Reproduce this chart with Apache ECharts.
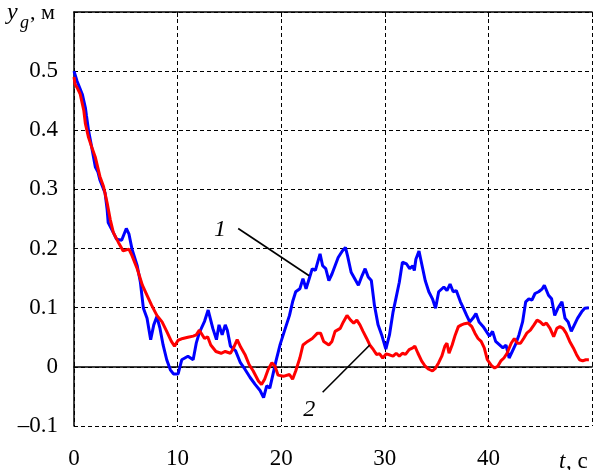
<!DOCTYPE html>
<html><head><meta charset="utf-8">
<script src="https://cdn.jsdelivr.net/npm/echarts@6/dist/echarts.min.js"></script>
<style>html,body{margin:0;padding:0;background:#fff}#c{width:595px;height:470px}</style>
</head><body><div id="c"></div>
<script>
// Curve 1 (blue)
const blueT = [0,0.15,0.3,0.8,1.1,1.2,1.4,1.7,2.06,2.3,2.5,3.0,3.2,3.3,3.8,4.1,4.6,5.05,5.3,5.6,6.1,6.4,6.7,7.05,7.4,7.7,8.0,8.3,8.6,8.95,9.3,9.6,10.05,10.4,11.0,11.5,11.8,12.1,12.6,12.95,13.4,13.75,14.0,14.3,14.6,14.8,15.1,15.6,16.06,16.5,17.0,17.5,17.96,18.3,18.6,18.9,19.2,19.5,19.9,20.3,20.8,21.1,21.4,21.8,22.1,22.4,22.7,23.0,23.3,23.75,24.0,24.3,24.6,24.9,25.2,25.5,25.9,26.2,26.4,26.75,27.1,27.45,27.8,28.1,28.4,28.7,29.0,29.35,29.7,30.1,30.45,30.8,31.1,31.4,31.7,32.1,32.4,32.7,32.85,33.0,33.3,33.6,33.9,34.25,34.6,34.9,35.2,35.7,36.0,36.3,36.6,36.9,37.3,37.6,37.9,38.2,38.5,38.8,39.1,39.5,39.8,40.1,40.4,40.7,41.4,41.7,42.0,42.3,42.6,42.95,43.3,43.6,43.9,44.2,44.5,44.85,45.2,45.4,45.8,46.1,46.4,46.7,47.1,47.4,47.7,48.0,48.3,48.6,49.0,49.3,49.7];
const blueY = [0.500,0.503,0.483,0.461,0.438,0.425,0.400,0.372,0.338,0.330,0.316,0.294,0.266,0.244,0.227,0.216,0.214,0.234,0.225,0.199,0.171,0.144,0.099,0.082,0.046,0.071,0.085,0.065,0.037,0.012,-0.005,-0.012,-0.012,0.012,0.018,0.012,0.040,0.058,0.077,0.096,0.065,0.046,0.071,0.054,0.071,0.062,0.035,0.027,0.007,-0.004,-0.018,-0.030,-0.040,-0.052,-0.032,-0.036,-0.013,0.010,0.038,0.060,0.087,0.110,0.127,0.132,0.149,0.132,0.149,0.166,0.163,0.191,0.171,0.166,0.146,0.157,0.171,0.185,0.196,0.202,0.188,0.160,0.149,0.138,0.154,0.166,0.152,0.146,0.104,0.071,0.054,0.030,0.054,0.093,0.118,0.143,0.177,0.174,0.166,0.171,0.163,0.182,0.196,0.171,0.146,0.127,0.115,0.099,0.127,0.135,0.129,0.140,0.127,0.129,0.110,0.099,0.087,0.076,0.082,0.090,0.076,0.068,0.060,0.052,0.060,0.043,0.032,0.037,0.015,0.026,0.037,0.054,0.076,0.110,0.115,0.113,0.124,0.127,0.132,0.138,0.121,0.115,0.087,0.099,0.110,0.082,0.076,0.060,0.071,0.082,0.093,0.099,0.100];
// Curve 2 (red)
const redT = [0,0.1,0.3,0.6,0.95,1.1,1.4,1.7,2.05,2.5,2.85,3.2,3.5,3.8,4.3,4.75,5.3,5.6,6.1,6.6,7.05,7.5,8.0,8.5,8.95,9.4,9.7,10.05,10.5,11.0,11.5,11.8,12.1,12.6,12.9,13.2,13.7,14.2,14.6,15.1,15.4,15.75,16.1,16.5,16.9,17.3,17.8,18.1,18.4,18.75,19.1,19.4,19.7,20.2,20.8,21.1,21.4,21.8,22.1,22.55,23.0,23.5,23.8,24.1,24.6,24.9,25.2,25.7,26.0,26.35,26.7,27.0,27.3,27.6,27.9,28.25,28.55,28.9,29.2,29.5,29.8,30.15,30.5,30.8,31.1,31.4,31.7,32.0,32.35,32.7,32.9,33.2,33.55,33.9,34.25,34.6,34.9,35.2,35.5,35.8,36.0,36.2,36.5,36.8,37.1,37.4,37.7,38.05,38.4,38.7,39.0,39.3,39.6,39.9,40.3,40.6,40.9,41.2,41.5,41.8,42.2,42.5,42.8,43.1,43.4,43.7,44.05,44.4,44.7,45.0,45.3,45.6,45.95,46.3,46.6,46.9,47.2,47.5,47.85,48.2,48.5,48.8,49.1,49.4,49.7];
const redY = [0.490,0.478,0.472,0.461,0.433,0.411,0.388,0.372,0.355,0.322,0.305,0.277,0.249,0.227,0.210,0.196,0.199,0.188,0.166,0.138,0.121,0.104,0.087,0.076,0.060,0.043,0.035,0.045,0.048,0.050,0.052,0.054,0.062,0.048,0.051,0.037,0.026,0.023,0.026,0.023,0.032,0.046,0.033,0.021,0.004,-0.007,-0.024,-0.030,-0.021,-0.004,0.007,0.001,-0.014,-0.016,-0.013,-0.021,-0.007,0.015,0.037,0.043,0.048,0.057,0.057,0.043,0.037,0.043,0.060,0.065,0.076,0.087,0.079,0.074,0.079,0.071,0.060,0.048,0.037,0.029,0.021,0.022,0.015,0.022,0.020,0.018,0.023,0.018,0.023,0.021,0.029,0.032,0.035,0.023,0.010,0.001,-0.004,-0.007,-0.002,0.007,0.018,0.035,0.040,0.023,0.037,0.054,0.068,0.071,0.073,0.074,0.068,0.057,0.048,0.043,0.032,0.012,0.002,-0.002,0.001,0.010,0.015,0.023,0.040,0.048,0.040,0.040,0.048,0.057,0.062,0.071,0.079,0.076,0.071,0.074,0.065,0.051,0.065,0.068,0.065,0.057,0.043,0.032,0.021,0.012,0.010,0.012,0.012];
const xTicks = [0, 10, 20, 30, 40];
const yTicks = [-0.1, 0, 0.1, 0.2, 0.3, 0.4, 0.5];
// Annotations (data coordinates)
const label1 = {text: '1', at: [14.1, 0.232], from: [15.85, 0.234], to: [22.7, 0.154]};
const label2 = {text: '2', at: [22.7, -0.072], from: [24.0, -0.043], to: [28.55, 0.037]};

const FONT = '"Liberation Serif", "DejaVu Serif", serif';
const pairs = (t, y) => t.map((v, i) => [v, y[i]]);
const chart = echarts.init(document.getElementById('c'), null, {renderer: 'canvas'});
const dash = {type: [4, 3], color: '#000', width: 1};
chart.setOption({
  animation: false,
  backgroundColor: '#fff',
  grid: {left: 74, right: -6, top: 12, bottom: 41.5},
  xAxis: [{
    type: 'value', min: 0, max: 50, interval: 10, position: 'bottom',
    axisLine: {lineStyle: {color: '#000', width: 1.5}},
    axisTick: {inside: true, length: 5, lineStyle: {color: '#000'}},
    splitLine: {show: true, lineStyle: dash},
    axisLabel: {margin: 21, fontFamily: FONT, fontSize: 23, color: '#000',
      formatter: v => xTicks.includes(v) ? String(v) : ''}
  }, {
    type: 'value', min: 0, max: 50, interval: 10, position: 'top',
    axisLine: {show: true, lineStyle: {color: '#000', width: 1.5}},
    axisTick: {inside: true, length: 5, lineStyle: {color: '#000'}},
    splitLine: {show: false}, axisLabel: {show: false}
  }],
  yAxis: {
    type: 'value', min: -0.1, max: 0.6, interval: 0.1,
    axisLine: {show: true, lineStyle: {color: '#000', width: 1.5}},
    axisTick: {show: false},
    splitLine: {show: true, lineStyle: dash},
    axisLabel: {margin: 16, fontFamily: FONT, fontSize: 23, color: '#000',
      formatter: v => {
        const r = Math.round(v * 10) / 10;
        if (!yTicks.includes(r)) return '';
        if (r < 0) return '\u2013' + Math.abs(r).toFixed(1);
        if (r === 0) return '0';
        return r.toFixed(1);
      }}
  },
  series: [
    {type: 'line', data: pairs(blueT, blueY), showSymbol: false, symbol: 'none',
     lineStyle: {color: '#0000ff', width: 3}, z: 3},
    {type: 'line', data: pairs(redT, redY), showSymbol: false, symbol: 'none',
     lineStyle: {color: '#ff0000', width: 3}, z: 4}
  ]
});

function px(p) { return chart.convertToPixel({xAxisIndex: 0, yAxisIndex: 0}, p); }
const g = [];
[label1, label2].forEach(a => {
  const f = px(a.from), t = px(a.to), c = px(a.at);
  g.push({type: 'line', shape: {x1: f[0], y1: f[1], x2: t[0], y2: t[1]},
    style: {stroke: '#000', lineWidth: 1.6}, z: 10});
  g.push({type: 'text', x: c[0], y: c[1], z: 10,
    style: {text: a.text, font: 'italic 24px ' + FONT, fill: '#000', align: 'center', verticalAlign: 'middle'}});
});
// axis names
g.push({type: 'text', x: 7, y: 1, z: 10, style: {text: 'y', font: 'italic 24px ' + FONT, fill: '#000'}});
g.push({type: 'text', x: 20, y: 14, z: 10, style: {text: 'g', font: 'italic 18px ' + FONT, fill: '#000'}});
g.push({type: 'text', x: 30, y: 2, z: 10, style: {text: ', \u043c', font: '22px ' + FONT, fill: '#000'}});
g.push({type: 'text', x: 559, y: 450, z: 10, style: {text: 't', font: 'italic 23px ' + FONT, fill: '#000'}});
g.push({type: 'text', x: 566, y: 450, z: 10, style: {text: ', \u0441', font: '23px ' + FONT, fill: '#000'}});
chart.setOption({graphic: {elements: g}});
</script>
</body></html>
